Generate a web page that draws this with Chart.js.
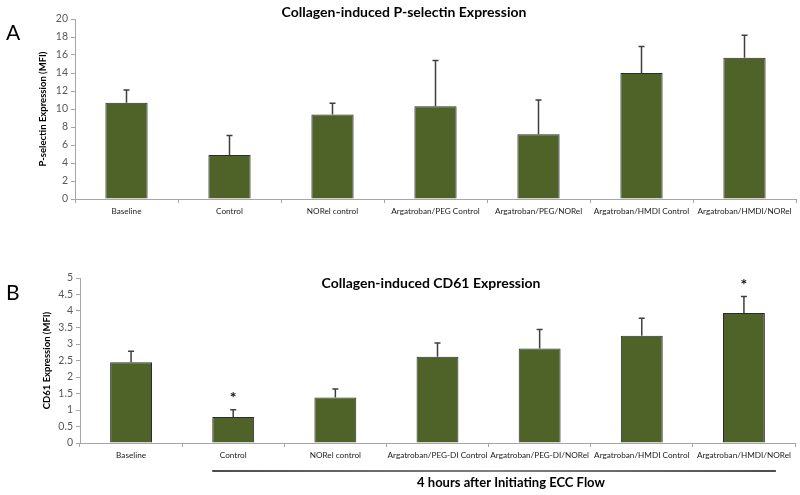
<!DOCTYPE html>
<html>
<head>
<meta charset="utf-8">
<script src="https://cdn.jsdelivr.net/npm/chart.js@4"></script>
<style>
  body { margin: 0; background: #fff; }
  .panel { position: absolute; left: 0; width: 800px; }
</style>
</head>
<body>
<div class="panel" style="top:0;height:250px"><canvas id="chartA" width="800" height="250"></canvas></div>
<div class="panel" style="top:250px;height:245px"><canvas id="chartB" width="800" height="245"></canvas></div>
<script>
const labelsA = ["Baseline", "Control", "NORel control", "Argatroban/PEG Control",
  "Argatroban/PEG/NORel", "Argatroban/HMDI Control", "Argatroban/HMDI/NORel"];
const valuesA = [10.7, 4.9, 9.4, 10.3, 7.2, 14.0, 15.7];
const errorsA = [1.4, 2.15, 1.25, 5.1, 3.8, 2.95, 2.5];

const labelsB = ["Baseline", "Control", "NORel control", "Argatroban/PEG-DI Control",
  "Argatroban/PEG-DI/NORel", "Argatroban/HMDI Control", "Argatroban/HMDI/NORel"];
const valuesB = [2.45, 0.79, 1.38, 2.61, 2.86, 3.25, 3.94];
const errorsB = [0.33, 0.22, 0.26, 0.42, 0.58, 0.53, 0.5];
const starsB = ["", "*", "", "", "", "", "*"];

const FONT = "Lato, 'Liberation Sans', sans-serif";
const barFill = "#4f6228";
const barEdge = "#262b38";
const axisGray = "#a6a6a6";

// up-only error bars, stars and the extra text for each panel
function extrasPlugin(opts) {
  return {
    id: "extras",
    afterDatasetsDraw(chart) {
      const ctx = chart.ctx;
      const meta = chart.getDatasetMeta(0);
      const y = chart.scales.y;
      const x = chart.scales.x;
      ctx.save();
      ctx.strokeStyle = "#3f3f3f";
      ctx.lineWidth = 1.5;
      meta.data.forEach((bar, i) => {
        const top = y.getPixelForValue(opts.values[i] + opts.errors[i]);
        ctx.beginPath();
        ctx.moveTo(bar.x, bar.y);
        ctx.lineTo(bar.x, top);
        ctx.moveTo(bar.x - 3, top);
        ctx.lineTo(bar.x + 3, top);
        ctx.stroke();
        if (opts.stars && opts.stars[i]) {
          ctx.fillStyle = "#111";
          ctx.font = "bold 16px " + FONT;
          ctx.textAlign = "center";
          ctx.textBaseline = "middle";
          ctx.fillText(opts.stars[i], bar.x, top - 12);
        }
      });

      ctx.fillStyle = "#000";
      ctx.textBaseline = "middle";
      ctx.textAlign = "left";
      ctx.font = "21px " + FONT;
      ctx.fillText(opts.letter, 6, opts.letterY);

      ctx.textAlign = "center";
      ctx.font = "bold 14px " + FONT;
      ctx.fillText(opts.title, opts.titleX, opts.titleY);

      if (opts.footer) {
        const x0 = x.getPixelForValue(1) - 21;
        const x1 = x.getPixelForValue(6) + 32;
        const g = ctx.createLinearGradient(x0, 0, x1, 0);
        g.addColorStop(0, "#111");
        g.addColorStop(0.5, "#555");
        g.addColorStop(1, "#111");
        ctx.strokeStyle = g;
        ctx.lineWidth = 1.5;
        ctx.beginPath();
        ctx.moveTo(x0, opts.footerLineY);
        ctx.lineTo(x1, opts.footerLineY);
        ctx.stroke();
        ctx.fillStyle = "#000";
        ctx.font = "bold 13px " + FONT;
        ctx.fillText(opts.footer, 511, opts.footerY);
      }
      ctx.restore();
    }
  };
}

function makeChart(id, labels, values, yTitle, yMax, yStep, box, extras) {
  return new Chart(document.getElementById(id), {
    type: "bar",
    data: {
      labels: labels,
      datasets: [{
        data: values,
        backgroundColor: barFill,
        borderColor: barEdge,
        borderWidth: 1,
        barPercentage: 1,
        categoryPercentage: 0.41,
      }],
    },
    options: {
      responsive: false,
      animation: false,
      layout: { padding: box.padding },
      plugins: { legend: { display: false }, tooltip: { enabled: false } },
      scales: {
        x: {
          offset: true,
          grid: { offset: true, drawOnChartArea: false, tickLength: 4, color: axisGray },
          border: { color: axisGray },
          ticks: { autoSkip: false, maxRotation: 0, padding: 3, color: "#1a1a1a", font: { family: FONT, size: 8.2 } },
          afterFit: (s) => { s.height = 20; },
        },
        y: {
          min: 0,
          max: yMax,
          grid: { drawOnChartArea: false, tickLength: 4, color: axisGray },
          border: { color: axisGray },
          ticks: {
            stepSize: yStep, padding: 3, color: "#595959",
            font: { family: FONT, size: 10.5 },
            callback: (v) => String(Number(v)),
          },
          title: {
            display: true,
            text: yTitle,
            color: "#000",
            padding: { top: box.titlePad, bottom: 0 },
            font: { family: FONT, size: 9.5, weight: "bold" },
          },
          afterFit: (s) => { s.width = box.yWidth; },
        },
      },
    },
    plugins: [extrasPlugin(extras)],
  });
}

makeChart("chartA", labelsA, valuesA, "P-selectin Expression (MFI)", 20, 2,
  { padding: { left: 0, top: 19, right: 4, bottom: 31 }, yWidth: 75, titlePad: 37 },
  { values: valuesA, errors: errorsA, letter: "A", letterY: 33,
    title: "Collagen-induced P-selectin Expression", titleX: 404, titleY: 12 });

makeChart("chartB", labelsB, valuesB, "CD61 Expression (MFI)", 5, 0.5,
  { padding: { left: 0, top: 28, right: 5, bottom: 32 }, yWidth: 80, titlePad: 41 },
  { values: valuesB, errors: errorsB, stars: starsB, letter: "B", letterY: 43,
    title: "Collagen-induced CD61 Expression", titleX: 431, titleY: 33,
    footer: "4 hours after Initiating ECC Flow", footerLineY: 221, footerY: 233 });
</script>
</body>
</html>
